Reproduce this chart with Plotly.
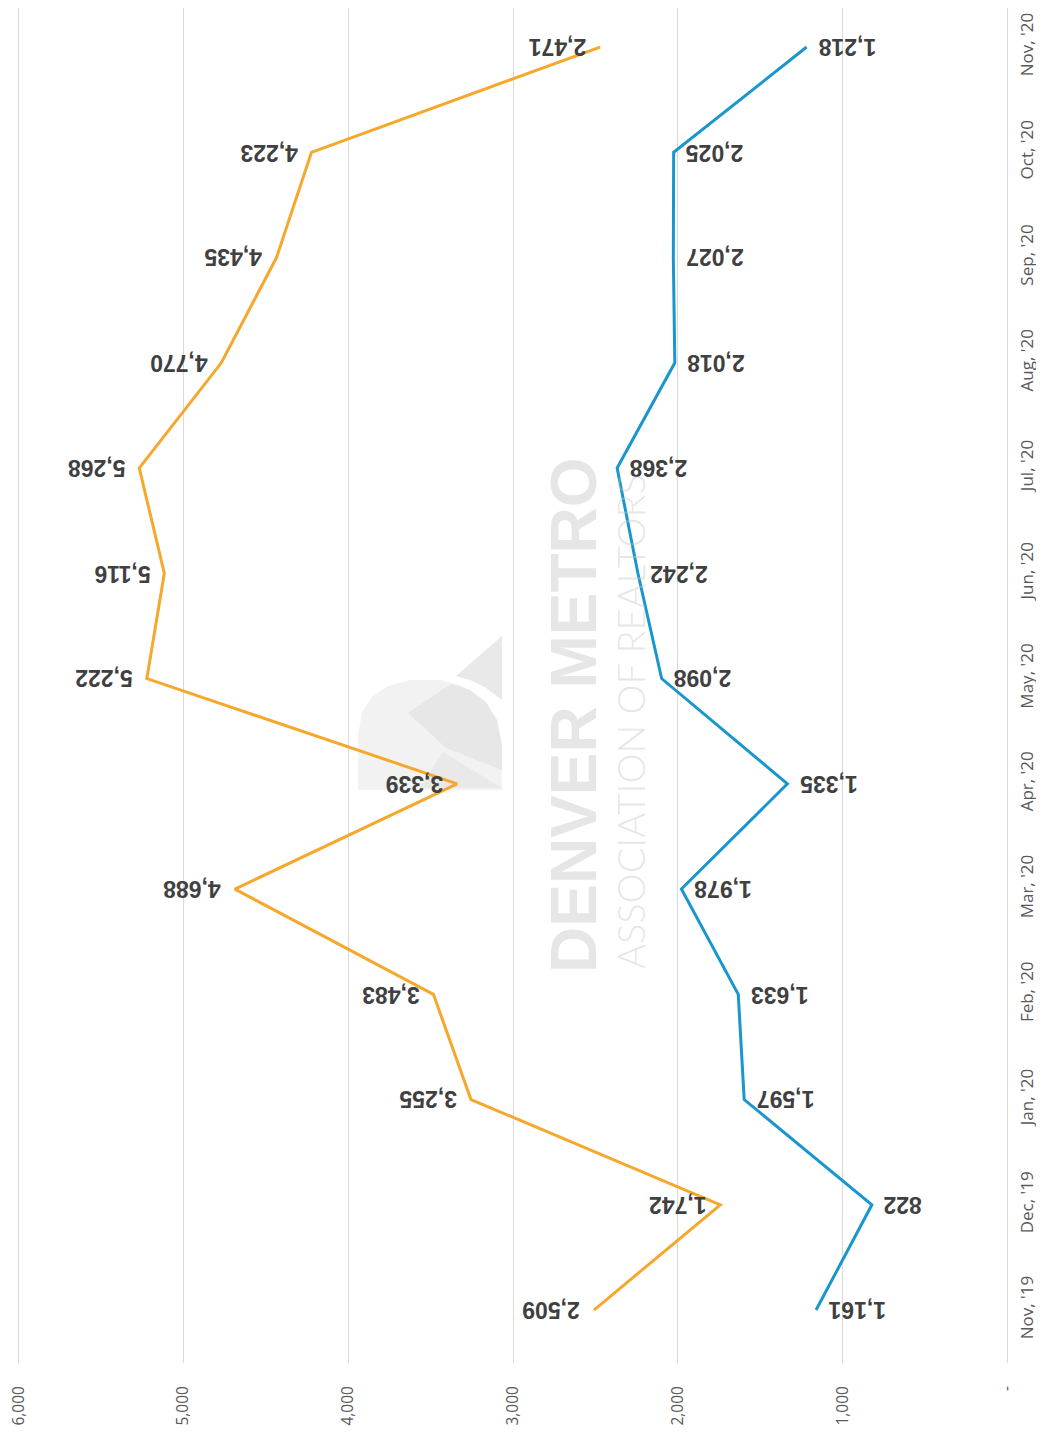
import plotly.graph_objects as go

months = ["Nov, '19", "Dec, '19", "Jan, '20", "Feb, '20", "Mar, '20", "Apr, '20",
          "May, '20", "Jun, '20", "Jul, '20", "Aug, '20", "Sep, '20", "Oct, '20", "Nov, '20"]
series_orange = [2509, 1742, 3255, 3483, 4688, 3339, 5222, 5116, 5268, 4770, 4435, 4223, 2471]
series_blue = [1161, 822, 1597, 1633, 1978, 1335, 2098, 2242, 2368, 2018, 2027, 2025, 1218]
tick_vals = [0, 1000, 2000, 3000, 4000, 5000, 6000]
tick_text = ["-", "1,000", "2,000", "3,000", "4,000", "5,000", "6,000"]

ORANGE = "#F5A82C"
BLUE = "#1996CE"
OFF = 8  # page body margin
W, H = 1044 - OFF, 1438 - OFF
ML, MR, MT, MB = 9, 35, 0, 75
PW, PH = W - ML - MR, H - MT - MB


def px(x, y):
    # page pixel -> paper coords
    x -= OFF
    y -= OFF
    return (x - ML) / PW, 1 - (y - MT) / PH


def path(points):
    s = ""
    for i, (x, y) in enumerate(points):
        a, b = px(x, y)
        s += ("M" if i == 0 else "L") + f"{a:.4f},{b:.4f} "
    return s + "Z"


fig = go.Figure()

# watermark logo (decorative)
dome = [(358, 790), (358, 735), (362, 712), (372, 697), (388, 686), (410, 680), (440, 680),
        (462, 686), (480, 698), (494, 716), (501, 740), (502, 790)]
top_tri = [(502, 636), (456, 676), (470, 680), (486, 688), (502, 700)]
diamond = [(408, 713), (451, 684), (470, 690), (486, 702), (497, 720), (502, 745), (502, 770), (446, 748)]
low_tri = [(443, 752), (502, 788), (420, 788)]
shapes = []
for pts, col in [(dome, "#f2f2f2"), (top_tri, "#e9e9e9"), (diamond, "#e7e7e7"), (low_tri, "#e9e9e9")]:
    shapes.append(dict(type="path", path=path(pts), xref="paper", yref="paper",
                       fillcolor=col, line=dict(width=0), layer="below"))

fig.add_trace(go.Scatter(x=series_orange, y=months, mode="lines",
                         line=dict(color=ORANGE, width=3), hoverinfo="skip", showlegend=False))
fig.add_trace(go.Scatter(x=series_blue, y=months, mode="lines",
                         line=dict(color=BLUE, width=3), hoverinfo="skip", showlegend=False))

label_font = dict(family="Liberation Sans", size=23, color="#404040", weight="bold")
annotations = []
for m, v in zip(months, series_orange):
    annotations.append(dict(x=v, y=m, xref="x", yref="y", text=f"{v:,}", showarrow=False,
                            textangle=180, xanchor="right", yanchor="middle", xshift=-12,
                            font=label_font))
for m, v in zip(months, series_blue):
    annotations.append(dict(x=v, y=m, xref="x", yref="y", text=f"{v:,}", showarrow=False,
                            textangle=180, xanchor="left", yanchor="middle", xshift=10,
                            font=label_font))

# watermark text
ax, ay = px(574, 715)
annotations.append(dict(x=ax, y=ay, xref="paper", yref="paper", text="DENVER METRO",
                        showarrow=False, textangle=-90, xanchor="center", yanchor="middle",
                        font=dict(family="Liberation Sans", size=64, color="rgba(200,200,200,0.45)", weight="bold")))
ax, ay = px(630, 722)
annotations.append(dict(x=ax, y=ay, xref="paper", yref="paper", text="ASSOCIATION OF REALTORS",
                        showarrow=False, textangle=-90, xanchor="center", yanchor="middle",
                        font=dict(family="Lato", size=38, color="rgba(200,200,200,0.45)", weight=300)))

fig.update_layout(
    width=W, height=H,
    margin=dict(l=ML, r=MR, t=MT, b=MB, autoexpand=False),
    paper_bgcolor="white", plot_bgcolor="white",
    shapes=shapes, annotations=annotations,
    xaxis=dict(range=[6010, -10], tickvals=tick_vals, ticktext=tick_text, tickangle=-90,
               showgrid=True, gridcolor="#d9d9d9", gridwidth=1, zeroline=False, showline=False,
               ticks="", ticklabelstandoff=19, ticklabeloverflow="allow",
               tickfont=dict(family="Open Sans", size=15.5, color="#595959")),
    yaxis=dict(type="category", categoryorder="array", categoryarray=months,
               range=[-0.503, 12.371], side="right", tickangle=-90, showgrid=False,
               zeroline=False, showline=False, ticks="", ticklabelstandoff=6,
               ticklabeloverflow="allow",
               tickfont=dict(family="Open Sans", size=17, color="#595959")),
)

fig.write_html("out.html")
